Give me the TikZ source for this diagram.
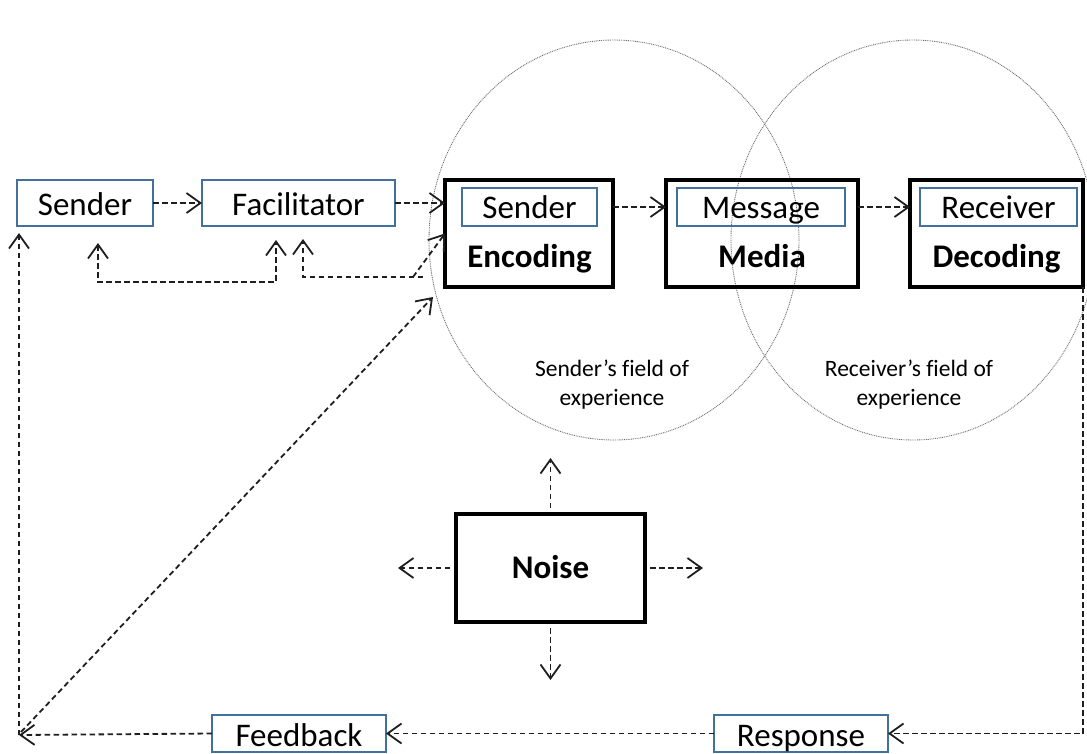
\documentclass[tikz,border=0pt]{standalone}
\usepackage{fontspec}
\setmainfont[Ligatures=NoCommon]{Carlito}
\usetikzlibrary{arrows.meta}
\definecolor{boxblue}{RGB}{65,113,156}
\definecolor{fieldgray}{RGB}{110,110,110}
\definecolor{flowink}{RGB}{30,30,30}

\begin{document}
\begin{tikzpicture}[x=1pt, y=-1pt,
  every node/.style={inner sep=0pt, outer sep=0pt},
  bigtext/.style={font=\fontsize{33}{40}\selectfont},
  bluebox/.style={draw=boxblue, line width=2.8pt, bigtext, text height=25pt, text depth=1pt},
  innerbox/.style={bluebox, minimum height=38pt, text height=23pt, text depth=1pt},
  blackbox/.style={draw=black, line width=3.2pt},
  boldword/.style={font=\fontsize{33}{40}\selectfont\bfseries, anchor=base},
  fieldtext/.style={font=\fontsize{23.5}{29}\selectfont, align=center},
  fieldline/.style={draw=fieldgray, line width=0.9pt, dash pattern=on 0.9pt off 0.9pt},
  flow/.style={draw=flowink, line width=1.8pt, dash pattern=on 5.5pt off 3.5pt,
    -{Straight Barb[length=14pt, width=20pt]}},
  flowboth/.style={flow, {Straight Barb[length=14pt, width=20pt]}-{Straight Barb[length=14pt, width=20pt]}}
]
\useasboundingbox (0,0) rectangle (1087,753);
\clip (0,0) rectangle (1087,753);

% fields of experience
\draw[fieldline] (614,240) ellipse [x radius=185, y radius=200];
\draw[fieldline] (913,240) ellipse [x radius=182, y radius=200];
\node[fieldtext] (sfield) at (612,384.5) {Sender’s field of\\experience};
\node[fieldtext] (rfield) at (909,384.5) {Receiver’s field of\\experience};

% sender side
\node[bluebox, minimum width=136pt, minimum height=46pt] (sender) at (85,203) {Sender};
\node[bluebox, minimum width=193pt, minimum height=46pt] (facil) at (298.5,203) {Facilitator};

% encoding, media, decoding
\node[blackbox, minimum width=168pt, minimum height=107pt] (enc) at (529,233.5) {};
\node[innerbox, minimum width=135pt] (encin) at (529.5,207) {Sender};
\node[boldword] (enctxt) at (529.5,267.5) {Encoding};

\node[blackbox, minimum width=192pt, minimum height=107pt] (media) at (762,233.5) {};
\node[innerbox, minimum width=168pt] (medin) at (761,207) {Message};
\node[boldword] (medtxt) at (762,267.5) {Media};

\node[blackbox, minimum width=173pt, minimum height=107pt] (dec) at (996.5,233.5) {};
\node[innerbox, minimum width=157pt] (decin) at (998.5,207) {Receiver};
\node[boldword] (dectxt) at (996.5,267.5) {Decoding};

% noise
\node[blackbox, minimum width=189pt, minimum height=108pt, font=\fontsize{33}{40}\selectfont\bfseries,
  text height=22pt, text depth=2pt] (noise) at (550.5,568) {Noise};

% response and feedback
\node[bluebox, minimum width=174pt, minimum height=37pt, text height=26pt, text depth=1pt] (feedback) at (299,733.5) {Feedback};
\node[bluebox, minimum width=174pt, minimum height=37pt, text height=26pt, text depth=1pt] (response) at (801,733.5) {Response};

% forward flow
\draw[flow] (sender.east) -- (facil.west);
\draw[flow] (facil.east) -- (facil.east -| enc.west);
\draw[flow] (encin.east -| enc.east) -- (encin.east -| media.west);
\draw[flow] (medin.east -| media.east) -- (medin.east -| dec.west);

% return path
\coordinate (rcorner) at (dec.south east |- response.east);
\coordinate (fbcorner) at (19,735);
\coordinate (senderfb) at (19,233);
\coordinate (encfb) at (433,297);
\draw[flow] (dec.south east) -- (rcorner) -- (response.east);
\draw[flow] (response.west) -- (feedback.east);
\draw[flow] (feedback.west) -- (fbcorner);
\draw[flow] (fbcorner) -- (senderfb);
\draw[flow] ([shift={(2,-3)}]fbcorner) -- (encfb);

% loops under sender and facilitator
\coordinate (s1) at (98,243);
\coordinate (f1) at (276,240);
\draw[flowboth] (s1) -- (98,282) -- (276,282) -- (f1);
\coordinate (f2) at (303,239);
\coordinate (j2) at (423,277);
\coordinate (j1) at (413,277);
\draw[flow] (j2) -- (303,277) -- (f2);
\draw[flow] (j1) -- (enc.west);

% noise spreading out
\draw[flow] ([yshift=6pt]noise.north) -- ++(0,-50);
\draw[flow] ([yshift=-6pt]noise.south) -- ++(0,52);
\draw[flow] ([xshift=-6pt]noise.west) -- ++(-52,0);
\draw[flow] ([xshift=5pt]noise.east) -- ++(53,0);
\end{tikzpicture}
\end{document}
